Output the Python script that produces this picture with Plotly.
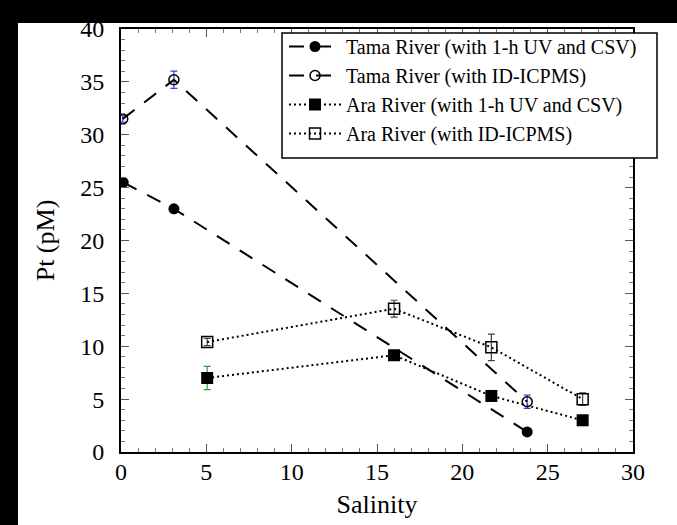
import plotly.graph_objects as go

# ---- data ----
tama_uv_x = [0.13, 3.1, 23.8]
tama_uv_y = [25.5, 23.0, 1.9]

tama_id_x = [0.1, 3.1, 23.8]
tama_id_y = [31.5, 35.2, 4.75]
tama_id_err = [0.3, 0.82, 0.63]

ara_uv_x = [5.05, 16.0, 21.7, 27.05]
ara_uv_y = [7.0, 9.15, 5.3, 3.0]
ara_uv_err = [1.1, 0, 0, 0]

ara_id_x = [5.05, 16.0, 21.7, 27.05]
ara_id_y = [10.4, 13.55, 9.9, 5.0]
ara_id_err = [0.35, 0.8, 1.25, 0.6]

names = ["Tama River (with 1-h UV and CSV)",
         "Tama River (with ID-ICPMS)",
         "Ara River (with 1-h UV and CSV)",
         "Ara River (with ID-ICPMS)"]

x_ticks = [0, 5, 10, 15, 20, 25, 30]
y_ticks = [0, 5, 10, 15, 20, 25, 30, 35, 40]

FONT = "Liberation Serif"

fig = go.Figure()

fig.add_trace(go.Scatter(
    x=ara_id_x, y=ara_id_y, name=names[3], mode="lines+markers",
    line=dict(color="black", width=2, dash="2px,3px"),
    marker=dict(symbol="square-open", size=11, color="black", line=dict(width=1.5, color="#222")),
    error_y=dict(type="data", array=ara_id_err, color="#444", thickness=1.2, width=3.5),
    legendrank=4,
))
fig.add_trace(go.Scatter(
    x=ara_uv_x, y=ara_uv_y, name=names[2], mode="lines+markers",
    line=dict(color="black", width=2, dash="2px,3px"),
    marker=dict(symbol="square", size=12, color="black"),
    error_y=dict(type="data", array=ara_uv_err, color="#2e9e3e", thickness=1.2, width=3.5),
    legendrank=3,
))
fig.add_trace(go.Scatter(
    x=tama_uv_x, y=tama_uv_y, name=names[0], mode="lines+markers",
    line=dict(color="black", width=2, dash="15px,12px"),
    marker=dict(symbol="circle", size=11, color="black"),
    legendrank=1,
))
fig.add_trace(go.Scatter(
    x=tama_id_x, y=tama_id_y, name=names[1], mode="lines+markers",
    line=dict(color="black", width=2, dash="15px,12px"),
    marker=dict(symbol="circle-open", size=10, color="black", line=dict(width=1.5, color="#222")),
    error_y=dict(type="data", array=tama_id_err, color="#3344dd", thickness=1.2, width=3.5),
    legendrank=2,
))

axis_common = dict(
    showline=True, linecolor="black", linewidth=2, mirror="ticks",
    ticks="inside", ticklen=8, tickwidth=1.2, tickcolor="#555",
    showgrid=False, zeroline=False, automargin=False,
    tickfont=dict(family=FONT, size=24, color="black"),
)

fig.update_xaxes(
    range=[0, 30], tickvals=x_ticks, ticktext=[str(v) for v in x_ticks],
    minor=dict(ticks="inside", ticklen=4, tickwidth=1, tickcolor="#777", dtick=1),
    title=dict(text="Salinity", font=dict(family=FONT, size=26, color="black"), standoff=11),
    ticklabelstandoff=-3,
    **axis_common,
)
fig.update_yaxes(
    range=[0, 40], tickvals=y_ticks, ticktext=[str(v) for v in y_ticks],
    minor=dict(ticks="inside", ticklen=4, tickwidth=1, tickcolor="#777", dtick=1),
    title=dict(text="Pt (pM)", font=dict(family=FONT, size=26, color="black"), standoff=18),
    ticklabelstandoff=10,
    **axis_common,
)

W, H = 677, 525
ml, mr, mt, mb = 121, 44, 29, 73
pw, ph = W - ml - mr, H - mt - mb

def px_x(p):
    return (p - ml) / pw

def px_y(p):
    return 1 - (p - mt) / ph

shapes = [
    dict(type="rect", xref="paper", yref="paper", x0=px_x(0), x1=px_x(18), y0=px_y(H), y1=px_y(0),
         fillcolor="black", line=dict(width=0), layer="below"),
    dict(type="rect", xref="paper", yref="paper", x0=px_x(0), x1=px_x(W), y0=px_y(23), y1=px_y(0),
         fillcolor="black", line=dict(width=0), layer="below"),
    # legend frame
    dict(type="rect", xref="paper", yref="paper", x0=px_x(282), x1=px_x(657), y0=px_y(158), y1=px_y(33),
         fillcolor="white", line=dict(width=1.5, color="black"), layer="above"),
]

fig.update_layout(
    width=W, height=H, autosize=False,
    margin=dict(l=ml, r=mr, t=mt, b=mb, pad=0, autoexpand=False),
    paper_bgcolor="white", plot_bgcolor="white",
    font=dict(family=FONT, color="black"),
    shapes=shapes,
    legend=dict(
        x=px_x(284), y=px_y(27), xanchor="left", yanchor="top",
        bgcolor="rgba(0,0,0,0)", borderwidth=0,
        font=dict(family=FONT, size=20, color="black"),
        tracegroupgap=0, itemwidth=52,
    ),
    showlegend=True,
)

fig.write_html("out.html")
